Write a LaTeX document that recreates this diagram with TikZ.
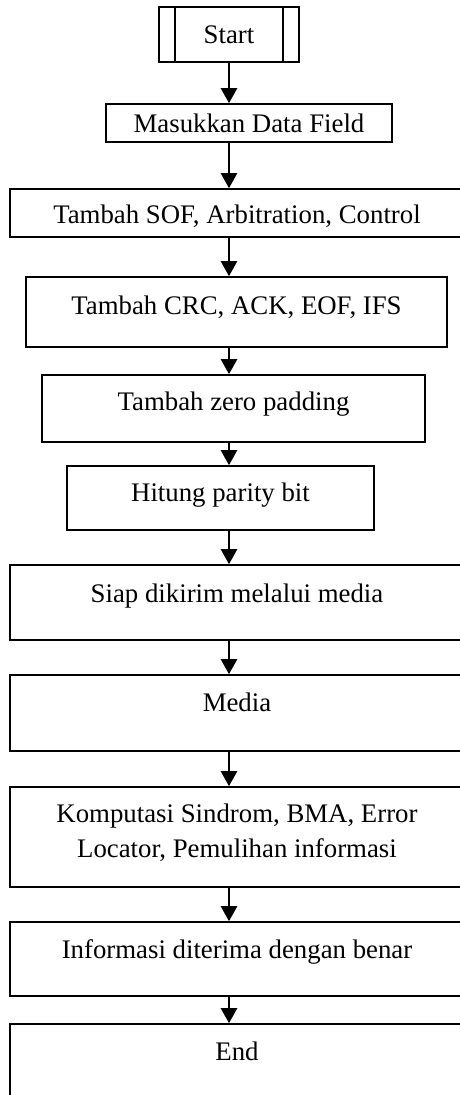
\documentclass[tikz,border=0pt]{standalone}
\usepackage{fontspec}
\setmainfont{Liberation Serif}
\usetikzlibrary{arrows.meta}

\begin{document}
\begin{tikzpicture}[x=1pt,y=1pt,
    box/.style={draw,line width=1.6pt,inner xsep=0pt,inner ysep=0pt,align=center,
      font=\fontsize{26.8}{35}\selectfont},
    flow/.style={line width=2.4pt,-{Triangle[length=15pt,width=16pt]}}]
  \clip (0,0) rectangle (460,-1095);
  \node[box,minimum width=140pt,text height=36pt,text depth=19pt] (start) at (229,-34.5) {Start};
  \node[box,minimum width=286pt,text height=28pt,text depth=10pt] (data) at (249,-123) {Masukkan Data Field};
  \node[box,minimum width=454pt,text height=34pt,text depth=14pt] (sof) at (237,-213) {Tambah SOF, Arbitration, Control};
  \node[box,minimum width=421pt,text height=37pt,text depth=33pt] (crc) at (236.5,-312) {Tambah CRC, ACK, EOF, IFS};
  \node[box,minimum width=383pt,text height=35pt,text depth=32pt] (zero) at (233.5,-408.5) {Tambah zero padding};
  \node[box,minimum width=307pt,text height=35pt,text depth=29pt] (parity) at (220.5,-498) {Hitung parity bit};
  \node[box,minimum width=454pt,text height=37pt,text depth=38pt] (siap) at (237,-602.5) {Siap dikirim melalui media};
  \node[box,minimum width=454pt,text height=36pt,text depth=40pt] (media) at (237,-713) {Media};
  \node[box,minimum width=454pt,text height=70pt,text depth=30pt] (sindrom) at (237,-837) {Komputasi Sindrom, BMA, Error\\Locator, Pemulihan informasi};
  \node[box,minimum width=454pt,text height=36pt,text depth=38pt] (terima) at (237,-959) {Informasi diterima dengan benar};
  \node[box,minimum width=454pt,text height=36pt,text depth=50pt] (end) at (237,-1067) {End};
  \draw[line width=1.6pt] ([xshift=17pt]start.north west) -- ([xshift=17pt]start.south west)
    ([xshift=-17pt]start.north east) -- ([xshift=-17pt]start.south east);
  \begin{scope}[flow]
    \draw (start) -- (data.north -| start);
    \draw (data.south -| start) -- (sof.north -| start);
    \draw (sof.south -| start) -- (crc.north -| start);
    \draw (crc.south -| start) -- (zero.north -| start);
    \draw (zero.south -| start) -- (parity.north -| start);
    \draw (parity.south -| start) -- (siap.north -| start);
    \draw (siap.south -| start) -- (media.north -| start);
    \draw (media.south -| start) -- (sindrom.north -| start);
    \draw (sindrom.south -| start) -- (terima.north -| start);
    \draw (terima.south -| start) -- (end.north -| start);
  \end{scope}
\end{tikzpicture}
\end{document}
